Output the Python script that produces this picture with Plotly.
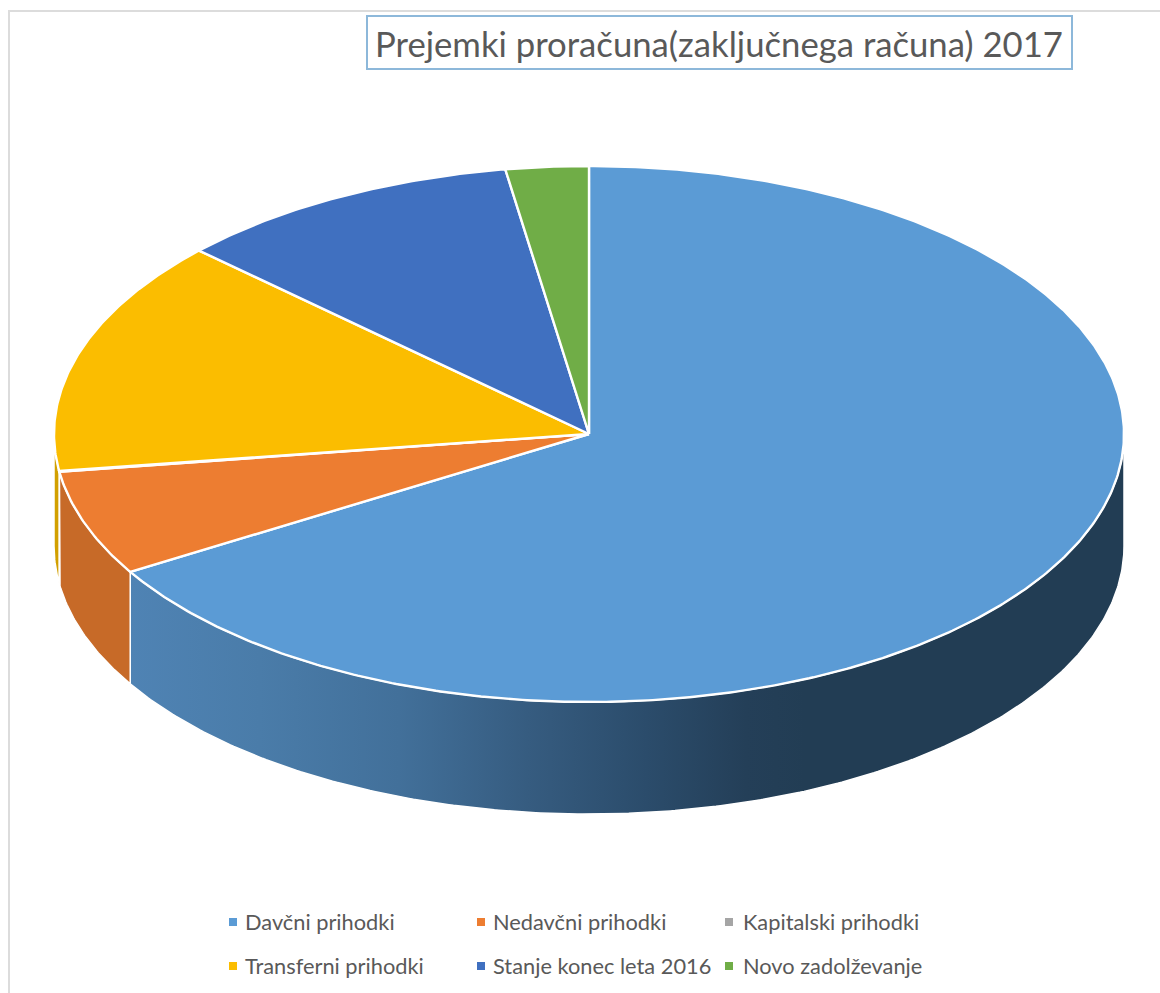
import numpy as np
import plotly.graph_objects as go

# ---- data (percent of total) ----
categories = ["Davčni prihodki", "Nedavčni prihodki", "Kapitalski prihodki",
              "Transferni prihodki", "Stanje konec leta 2016", "Novo zadolževanje"]
values = [66.4, 6.35, 0.05, 14.2, 10.5, 2.5]
top_colors = ["#5B9BD5", "#ED7D31", "#A5A5A5", "#FBBD00", "#4070C0", "#70AD47"]
title_text = "Prejemki proračuna(zaključnega računa) 2017"

# ---- page geometry ----
W, H = 1160, 993
CX, CY, RX, RY, DEPTH_PX = 589, 434, 535, 268, 112
DEPTH = DEPTH_PX / RY
SIDE_SOLID = ["#4F83B4", "#C76A28", "#C76A28", "#D2A000", "#345FA6", "#5C9038"]
BLUE_WALL_SCALE = [[0.00, "#4F83B4"], [0.13, "#4A7CA9"], [0.27, "#42709A"],
                   [0.40, "#365C80"], [0.52, "#2B4C6B"], [0.62, "#243F58"],
                   [0.68, "#223D54"], [1.00, "#223D54"]]


def deg_points(a0, a1):
    n = max(2, int(abs(a1 - a0) * 2) + 2)
    return np.radians(np.linspace(a0, a1, n))


fracs = np.array(values) / sum(values) * 360
edges = np.concatenate([[0], np.cumsum(fracs)])

fig = go.Figure()

# side walls: only the front half of the disc (90..270 degrees clockwise from top)
for i in range(len(values)):
    a0, a1 = max(edges[i], 90), min(edges[i + 1], 270)
    if a1 <= a0:
        continue
    t = deg_points(a0, a1)
    x_top, y_top = np.sin(t), np.cos(t)
    xs = np.concatenate([x_top, x_top[::-1], x_top[:1]])
    ys = np.concatenate([y_top, y_top[::-1] - DEPTH, y_top[:1]])
    kw = {}
    if i == 0:
        kw["fillgradient"] = dict(type="horizontal", colorscale=BLUE_WALL_SCALE,
                                  start=float(xs.min()), stop=float(xs.max()))
    else:
        kw["fillcolor"] = SIDE_SOLID[i]
    fig.add_trace(go.Scatter(x=xs, y=ys, mode="lines", fill="toself",
                             line=dict(color="white", width=1.5),
                             hoverinfo="skip", showlegend=False, **kw))

# top faces
for i, cat in enumerate(categories):
    t = deg_points(edges[i], edges[i + 1])
    xs = np.concatenate([[0], np.sin(t), [0]])
    ys = np.concatenate([[0], np.cos(t), [0]])
    fig.add_trace(go.Scatter(x=xs, y=ys, mode="lines", fill="toself", name=cat,
                             fillcolor=top_colors[i],
                             line=dict(color="white", width=2.4),
                             hoverinfo="name", showlegend=False))


def px(x):
    return x / W


def py(y):
    return 1 - y / H


# legend rows, placed as in the reference
leg_marker_x = [233, 481, 729, 233, 481, 729]
leg_text_x = [243, 491, 741, 243, 491, 741]
leg_y = [921, 921, 921, 965, 965, 965]
shapes = [
    dict(type="line", xref="paper", yref="paper", x0=px(8), x1=1, y0=py(11), y1=py(11),
         line=dict(color="#DCDCDC", width=2)),
    dict(type="line", xref="paper", yref="paper", x0=px(9), x1=px(9), y0=py(10), y1=0,
         line=dict(color="#DCDCDC", width=2)),
    dict(type="rect", xref="paper", yref="paper", x0=px(367), x1=px(1072), y0=py(69), y1=py(16),
         line=dict(color="#8DB8DA", width=2)),
]
annotations = [dict(text=title_text, xref="paper", yref="paper", x=px(373), y=py(43),
                    xanchor="left", yanchor="middle", showarrow=False,
                    font=dict(family="Lato", size=34.7, color="#595959"))]
for i, cat in enumerate(categories):
    shapes.append(dict(type="rect", xref="paper", yref="paper",
                       x0=px(leg_marker_x[i] - 4), x1=px(leg_marker_x[i] + 4),
                       y0=py(leg_y[i] + 5), y1=py(leg_y[i] - 3),
                       fillcolor=top_colors[i], line=dict(width=0)))
    annotations.append(dict(text=cat, xref="paper", yref="paper",
                            x=px(leg_text_x[i]), y=py(leg_y[i]),
                            xanchor="left", yanchor="middle", showarrow=False,
                            font=dict(family="Lato", size=21.8, color="#595959")))

fig.update_layout(
    width=W, height=H, margin=dict(l=0, r=0, t=0, b=0),
    paper_bgcolor="white", plot_bgcolor="white", showlegend=False,
    xaxis=dict(range=[-CX / RX, (W - CX) / RX], visible=False, fixedrange=True),
    yaxis=dict(range=[-(H - CY) / RY, CY / RY], visible=False, fixedrange=True),
    shapes=shapes, annotations=annotations,
)

fig.write_html("out.html", config={"displayModeBar": False},
               post_script="document.body.style.margin='0';")
